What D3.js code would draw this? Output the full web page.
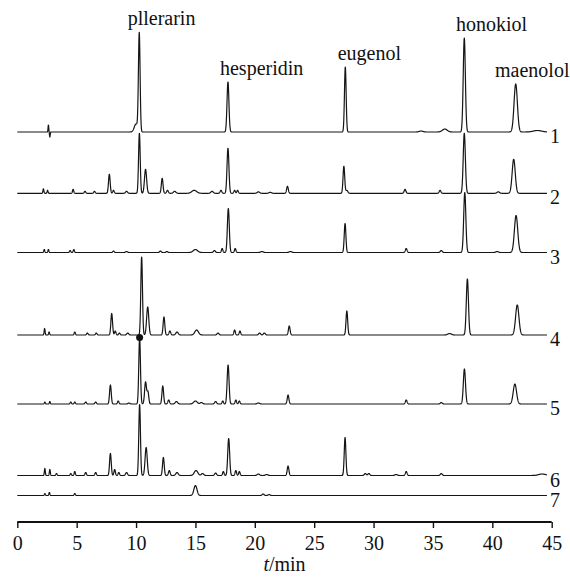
<!DOCTYPE html>
<html>
<head>
<meta charset="utf-8">
<script src="https://cdn.jsdelivr.net/npm/d3@7"></script>
<style>
body { margin: 0; background: #fff; }
</style>
</head>
<body>
<div class="container"></div>
<script>
// peak tables: [retention time (min), height, sigma (min)]
var trace1 = [[2.62, 7, 0.03], [2.74, -5, 0.03], [10.0, 8, 0.15], [10.27, 98, 0.07],
  [17.74, 50, 0.08], [27.62, 65, 0.07], [34.0, 1, 0.15], [36.0, 3, 0.2],
  [37.64, 94, 0.09], [41.97, 48, 0.14], [43.8, 1.5, 0.35]];
var trace2 = [[2.2, 4.5, 0.04], [2.55, 3, 0.04], [4.7, 4, 0.05], [5.7, 2, 0.06], [6.5, 2, 0.06],
  [7.75, 19, 0.07], [8.1, 3, 0.06], [9.2, 2, 0.08], [10.28, 60, 0.07], [10.8, 24, 0.09],
  [12.2, 15, 0.07], [12.65, 3, 0.07], [13.25, 2, 0.1], [14.9, 3, 0.2], [16.4, 2, 0.1],
  [17.15, 3, 0.07], [17.74, 45, 0.08], [18.3, 3, 0.06], [18.55, 3, 0.06], [20.3, 1.5, 0.1],
  [21.3, 1, 0.1], [22.75, 7, 0.07], [27.5, 27, 0.07], [27.75, 3, 0.08], [32.65, 4, 0.07],
  [35.6, 3, 0.07], [37.64, 60, 0.09], [40.5, 1.5, 0.1], [41.8, 34, 0.13]];
var trace3 = [[2.27, 3, 0.04], [2.62, 3, 0.04], [4.45, 2, 0.05], [4.76, 3, 0.05], [8.1, 1.5, 0.06],
  [9.2, 1, 0.08], [12.05, 1.5, 0.07], [12.6, 1, 0.07], [15.0, 3, 0.18], [16.6, 2, 0.08],
  [17.25, 4, 0.06], [17.77, 44, 0.08], [18.35, 4, 0.06], [20.6, 1, 0.1], [23.0, 1, 0.1],
  [27.6, 29, 0.07], [32.75, 4, 0.07], [35.7, 2, 0.08], [37.68, 60, 0.09], [40.4, 1, 0.1],
  [42.0, 37, 0.14]];
var trace4 = [[2.3, 6.5, 0.04], [2.68, 3, 0.04], [4.84, 3, 0.05], [5.9, 2, 0.06], [6.65, 2, 0.06],
  [7.95, 21.5, 0.07], [8.25, 4, 0.06], [8.6, 2, 0.06], [9.3, 2, 0.08], [10.47, 78, 0.07],
  [10.98, 28, 0.09], [12.35, 18, 0.07], [12.85, 4, 0.07], [13.45, 3, 0.1], [15.1, 5, 0.15],
  [16.9, 2, 0.08], [18.3, 5, 0.06], [18.75, 4, 0.06], [20.4, 2, 0.08], [20.8, 2, 0.08],
  [22.9, 9, 0.07], [27.75, 24, 0.07], [36.4, 1.5, 0.15], [37.9, 56, 0.09], [42.1, 30, 0.14]];
var trace5 = [[2.32, 2, 0.04], [2.74, 2.5, 0.04], [4.5, 2, 0.05], [4.84, 2, 0.05], [5.76, 2, 0.06],
  [6.6, 2, 0.06], [7.84, 19, 0.07], [8.5, 3, 0.06], [9.4, 1, 0.08], [10.3, 66.5, 0.07],
  [10.8, 22, 0.08], [11.0, 12, 0.07], [12.25, 18, 0.07], [12.75, 4, 0.07], [13.4, 2.5, 0.1],
  [15.0, 3, 0.15], [15.5, 1.5, 0.1], [16.7, 2.5, 0.08], [17.3, 3, 0.06], [17.75, 39, 0.08],
  [18.4, 4, 0.06], [18.7, 3, 0.06], [20.3, 1, 0.1], [22.8, 9, 0.07], [32.75, 4, 0.07],
  [35.7, 1.5, 0.08], [37.65, 35, 0.09], [41.9, 20, 0.14]];
var trace6 = [[2.32, 7, 0.04], [2.74, 6, 0.04], [3.3, 2, 0.05], [4.5, 2, 0.05], [4.84, 4, 0.05],
  [5.76, 3, 0.06], [6.6, 3, 0.06], [7.84, 22, 0.07], [8.2, 6, 0.06], [8.55, 3, 0.06],
  [9.2, 3, 0.08], [10.3, 71, 0.07], [10.85, 28, 0.09], [12.3, 18, 0.07], [12.8, 5, 0.07],
  [13.45, 3, 0.1], [15.05, 5, 0.15], [15.6, 2, 0.1], [16.7, 2.5, 0.08], [17.35, 4, 0.06],
  [17.8, 37, 0.08], [18.4, 5, 0.06], [18.7, 4, 0.06], [20.3, 1.5, 0.1], [21.0, 1, 0.1],
  [22.8, 9.5, 0.07], [27.6, 38, 0.07], [29.3, 2, 0.08], [29.6, 2, 0.08], [31.9, 1, 0.1],
  [32.75, 4, 0.07], [35.7, 2, 0.08], [44.2, 1.5, 0.3]];
var trace7 = [[2.32, 2, 0.04], [2.7, 3, 0.04], [4.84, 2, 0.05], [15.0, 10, 0.13],
  [20.7, 1.5, 0.08], [21.2, 1, 0.08]];

var traces = [trace1, trace2, trace3, trace4, trace5, trace6, trace7];
var traceNames = ['1', '2', '3', '4', '5', '6', '7'];
var compounds = ['pllerarin', 'hesperidin', 'eugenol', 'honokiol', 'maenolol'];
var compoundPeaks = [3, 4, 5, 8, 9];   // index of the peak in trace1
var xTicks = [0, 5, 10, 15, 20, 25, 30, 35, 40, 45];
var runEnd = 44.6;

// layout
var w = 570, h = 577;
var laneOffset = [390, 328.7, 269.5, 187, 118, 46.5, 26.5];
var labelShift = [-11.6, -8, -7.6, -8.3, -20.7];
var serif = '"Liberation Serif", "Times New Roman", Times, "DejaVu Serif", serif';

var svg = d3.select('.container').append('svg')
  .attr('width', w)
  .attr('height', h);

var x = d3.scaleLinear().domain([0, 45]).range([17.3, 551.7]);
var y = d3.scaleLinear().domain([0, 500]).range([522, 22]);

function signal(peaks, t) {
  var s = 0;
  peaks.forEach(function(p) {
    var z = (t - p[0]) / p[2];
    s += p[1] * Math.exp(-0.5 * z * z);
  });
  return s;
}

var times = d3.range(0, runEnd + 0.001, 0.01);

var line = d3.line()
  .x(function(d) { return x(d[0]); })
  .y(function(d) { return y(d[1]); });

traces.forEach(function(peaks, i) {
  var pts = times.map(function(t) { return [t, laneOffset[i] + signal(peaks, t)]; });
  svg.append('path')
    .attr('d', line(pts))
    .attr('fill', 'none')
    .attr('stroke', '#151515')
    .attr('stroke-width', 1.2)
    .attr('stroke-linejoin', 'round');

  svg.append('text')
    .attr('x', x(runEnd) + 3)
    .attr('y', y(laneOffset[i]) + 11)
    .attr('font-family', serif)
    .attr('font-size', 20)
    .attr('fill', '#111')
    .text(traceNames[i]);
});

// dark spot on top of the pllerarin peak of trace 5
svg.append('circle')
  .attr('cx', x(trace5[9][0]))
  .attr('cy', y(laneOffset[4] + signal(trace5, trace5[9][0])))
  .attr('r', 3.5)
  .attr('fill', '#111');

compounds.forEach(function(name, i) {
  var p = trace1[compoundPeaks[i]];
  svg.append('text')
    .attr('x', x(p[0]) + labelShift[i])
    .attr('y', y(laneOffset[0] + signal(trace1, p[0])) - 7.5)
    .attr('font-family', serif)
    .attr('font-size', 20)
    .attr('fill', '#111')
    .text(name);
});

var xAxis = d3.axisBottom(x)
  .tickValues(xTicks)
  .tickFormat(d3.format('d'))
  .tickSize(6)
  .tickPadding(8);

var xAxisGroup = svg.append('g')
  .attr('transform', 'translate(0, 522)')
  .call(xAxis)
  .attr('font-family', serif)
  .attr('font-size', 20);

xAxisGroup.select('.domain')
  .attr('d', 'M' + x(0) + ',0H' + x(45))
  .attr('stroke', '#111')
  .attr('stroke-width', 2.2);
xAxisGroup.selectAll('.tick line')
  .attr('stroke', '#111')
  .attr('stroke-width', 1.4);
xAxisGroup.selectAll('.tick text')
  .attr('fill', '#111');

var axisTitle = svg.append('text')
  .attr('x', x(22.5))
  .attr('y', 571)
  .attr('text-anchor', 'middle')
  .attr('font-family', serif)
  .attr('font-size', 20)
  .attr('fill', '#111');
axisTitle.append('tspan').attr('font-style', 'italic').text('t');
axisTitle.append('tspan').text('/min');
</script>
</body>
</html>
